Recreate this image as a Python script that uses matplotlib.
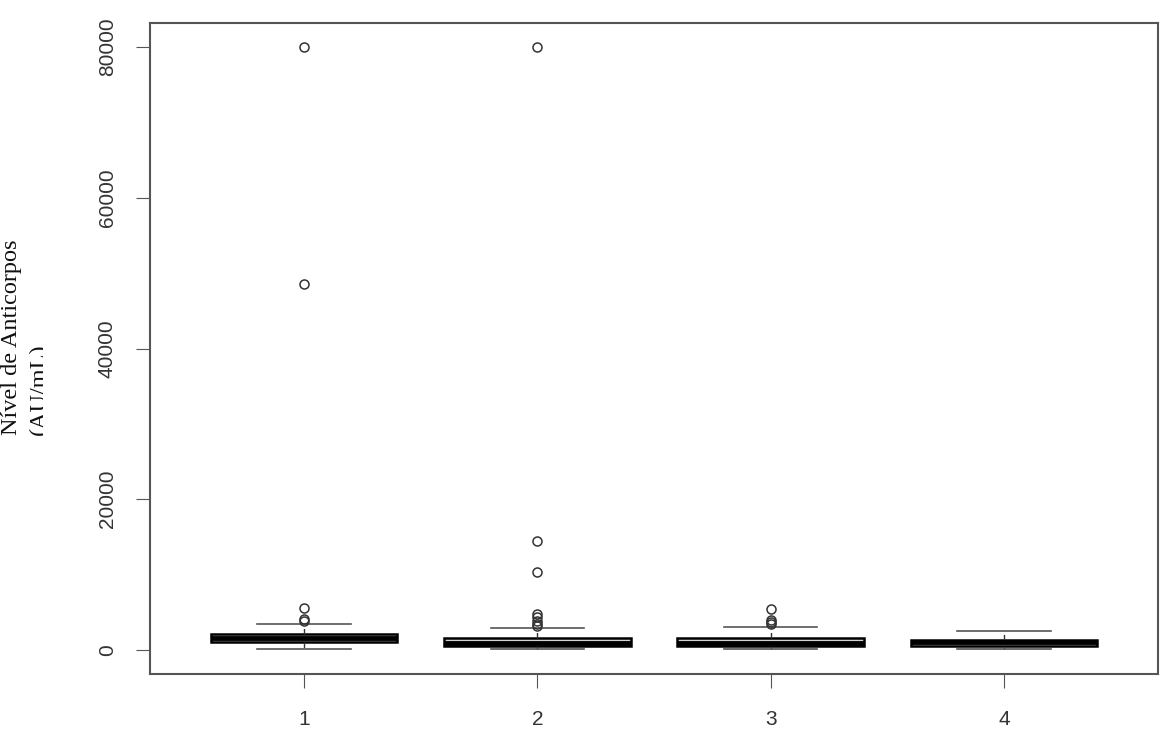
import matplotlib
matplotlib.use("Agg")
import matplotlib.pyplot as plt
from matplotlib.patches import Rectangle

# ---- data ----
groups = ["1", "2", "3", "4"]
whis_low = [100, 100, 100, 100]
q1 = [1100, 550, 550, 450]
median = [1600, 900, 900, 1100]
q3 = [2150, 1600, 1600, 1350]
whis_high = [3450, 2900, 3100, 2500]
fliers_1 = [3800, 4100, 5600, 48500, 80000]
fliers_2 = [3200, 3500, 3900, 4300, 4700, 10400, 14500, 80000]
fliers_3 = [3400, 3700, 4000, 5400]
fliers_4 = []
yticks = [0, 20000, 40000, 60000, 80000]
ylabel = "Nível de Anticorpos\n(AU/mL)"

W, H = 1163, 733
fig = plt.figure(figsize=(W / 100, H / 100), dpi=100)
ax = fig.add_axes([150 / W, (H - 674) / H, (1158 - 150) / W, (674 - 23) / H])

fliers = [fliers_1, fliers_2, fliers_3, fliers_4]
stats = []
for i, g in enumerate(groups):
    stats.append(dict(label=g, whislo=whis_low[i], q1=q1[i], med=median[i],
                      q3=q3[i], whishi=whis_high[i], fliers=fliers[i]))

ax.bxp(stats, positions=range(1, len(groups) + 1), widths=0.8, capwidths=0.4,
       patch_artist=True,
       boxprops=dict(facecolor="#d3d3d3", edgecolor="black", linewidth=1.8),
       medianprops=dict(color="black", linewidth=3.5),
       whiskerprops=dict(color="#333333", linewidth=1, linestyle=(0, (4, 3))),
       capprops=dict(color="#555555", linewidth=1.2),
       flierprops=dict(marker="o", markerfacecolor="none", markeredgecolor="#333333",
                       markersize=6.5, markeredgewidth=1.1))

ax.set_xlim(0.34, 4.66)
ax.set_ylim(-3200, 83200)
ax.set_yticks(yticks)
ax.set_yticklabels([str(v) for v in yticks], rotation=90, va="center")
ax.set_xticks(range(1, len(groups) + 1))
ax.set_xticklabels(groups)
tick_font = "Liberation Sans"
ax.tick_params(axis="y", length=10, pad=14, labelsize=15, labelcolor="#333333",
               color="#555555", labelfontfamily=tick_font)
ax.tick_params(axis="x", length=10, pad=16, labelsize=15, labelcolor="#333333",
               color="#555555", labelfontfamily=tick_font)
for sp in ax.spines.values():
    sp.set_color("#555555")
    sp.set_linewidth(1.5)

fig.text(1 / W, (H - 435) / H, ylabel, rotation=90, ha="left", va="bottom",
         multialignment="left", fontsize=17.5, family="Liberation Serif",
         linespacing=1.4, color="#111111", zorder=3)
# the second line of the label is cut off in the reference
fig.patches.append(Rectangle((43 / W, (H - 445) / H), 35 / W, 230 / H,
                             transform=fig.transFigure, facecolor="white",
                             edgecolor="none", zorder=5))

fig.savefig("out.png", dpi=100)
